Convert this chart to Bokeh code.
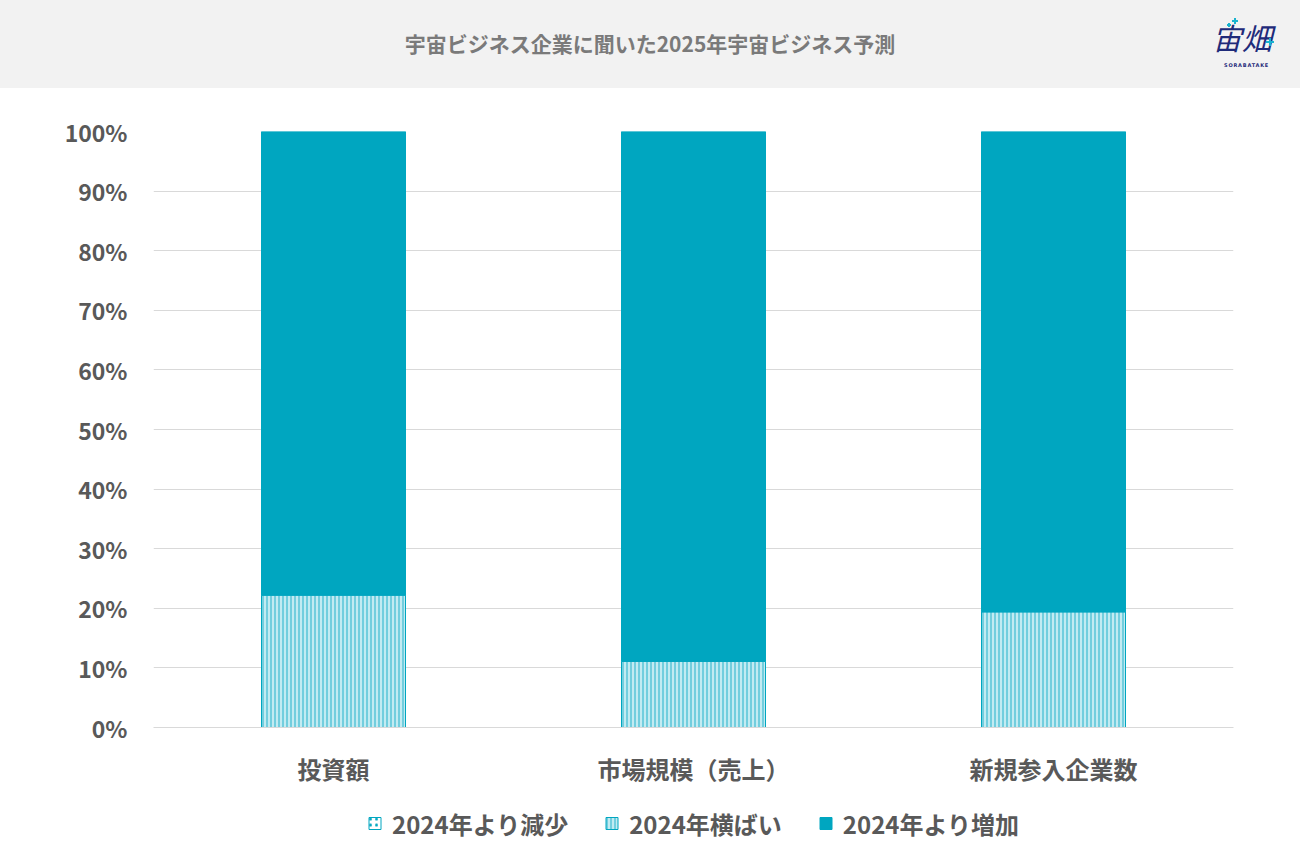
from bokeh.plotting import figure
from bokeh.models import (FactorRange, Range1d, FixedTicker, PrintfTickFormatter,
                          Legend, LegendItem, Div, ColumnDataSource)
from bokeh.layouts import column
from bokeh.transform import stack
from bokeh.embed import file_html
from bokeh.resources import INLINE

# ---- data ----
title_text = "宇宙ビジネス企業に聞いた2025年宇宙ビジネス予測"
categories = ["投資額", "市場規模（売上）", "新規参入企業数"]
decrease = [0.0, 0.0, 0.0]
flat = [22.2, 11.1, 19.4]
increase = [77.8, 88.9, 80.6]
series_labels = ["2024年より減少", "2024年横ばい", "2024年より増加"]
y_ticks = [0, 10, 20, 30, 40, 50, 60, 70, 80, 90, 100]

FONT = "Noto Sans CJK JP"
TEAL = "#00a6c0"
GREY_TXT = "#595959"

W = 1300
H = 850
HEADER_H = 88
BL, BR, BT, BB = 153, 67, 43, 68
FRAME_W = W - BL - BR
FRAME_H = 596
FIG_H = BT + FRAME_H + BB
LEG_H = H - HEADER_H - FIG_H

# series styles
STYLES = [
    dict(fill_color="white", line_color=TEAL, line_width=1,
         hatch_pattern=".", hatch_color=TEAL, hatch_scale=6, hatch_weight=1.5),
    dict(fill_color="#c2ebf2", line_color=TEAL, line_width=1,
         hatch_pattern="|", hatch_color="#22b1ca", hatch_scale=4, hatch_weight=1),
    dict(fill_color=TEAL, line_color=TEAL, line_width=1),
]


def cross(cx, cy, size, thick, color="#19b3cf"):
    h = (f'<div style="position:absolute;left:{cx - size / 2}px;top:{cy - thick / 2}px;'
         f'width:{size}px;height:{thick}px;background:{color};"></div>')
    v = (f'<div style="position:absolute;left:{cx - thick / 2}px;top:{cy - size / 2}px;'
         f'width:{thick}px;height:{size}px;background:{color};"></div>')
    return h + v


header_html = f"""
<div style="position:relative;width:{W}px;height:{HEADER_H}px;background:#f2f2f2;font-family:'{FONT}';">
  <div style="position:absolute;left:0;width:{W}px;top:29px;text-align:center;font-size:21px;font-weight:bold;color:#7a7a7a;line-height:28px;">{title_text}</div>
  <div style="position:absolute;left:1212px;top:16px;font-size:30px;font-style:italic;color:#1f2b7a;line-height:43px;">宙畑</div>
  {cross(1229, 25, 4, 1.5)}
  {cross(1234.5, 21, 6, 2)}
  {cross(1270, 42, 8, 2)}
  <div style="position:absolute;left:1224px;top:62px;font-size:5px;font-weight:bold;color:#1f2b7a;letter-spacing:0.8px;line-height:6px;font-family:'DejaVu Sans';">SORABATAKE</div>
</div>
"""
header = Div(text=header_html, width=W, height=HEADER_H, margin=0)

src = ColumnDataSource(dict(cat=categories, dec=decrease, flat=flat, inc=increase))
stacks = [(0, "dec"), (stack("dec"), stack("dec", "flat")),
          (stack("dec", "flat"), stack("dec", "flat", "inc"))]


def add_bars(fig):
    rs = []
    for (bottom, top), style in zip(stacks, STYLES):
        rs.append(fig.vbar(x="cat", bottom=bottom, top=top, width=0.4, source=src, **style))
    return rs


p = figure(x_range=FactorRange(*categories, range_padding=0), y_range=Range1d(0, 100),
           width=W, height=FIG_H, frame_width=FRAME_W, frame_height=FRAME_H,
           output_backend="svg", toolbar_location=None,
           min_border_left=BL, min_border_right=BR, min_border_top=BT, min_border_bottom=BB)
p.margin = 0
add_bars(p)

p.background_fill_color = "white"
p.border_fill_color = "white"
p.outline_line_color = None

p.xgrid.grid_line_color = None
p.ygrid.grid_line_color = "#d9d9d9"
p.ygrid.grid_line_width = 1
p.ygrid.ticker = FixedTicker(ticks=y_ticks)

p.yaxis.ticker = FixedTicker(ticks=y_ticks)
p.yaxis.formatter = PrintfTickFormatter(format="%d%%")
p.yaxis.axis_line_color = None
p.yaxis.major_tick_line_color = None
p.yaxis.minor_tick_line_color = None
p.yaxis.major_label_standoff = 20
p.yaxis.major_label_text_font = FONT
p.yaxis.major_label_text_font_size = "23px"
p.yaxis.major_label_text_font_style = "bold"
p.yaxis.major_label_text_color = GREY_TXT

p.xaxis.axis_line_color = "#d9d9d9"
p.xaxis.axis_line_width = 1
p.xaxis.major_tick_line_color = None
p.xaxis.minor_tick_line_color = None
p.xaxis.major_label_standoff = 17
p.xaxis.major_label_text_font = FONT
p.xaxis.major_label_text_font_size = "24px"
p.xaxis.major_label_text_font_style = "bold"
p.xaxis.major_label_text_color = GREY_TXT

# ---- legend strip (same bars, scrolled out of its view; only the legend shows) ----
lg = figure(width=W, height=LEG_H, x_range=FactorRange(*categories), y_range=Range1d(200, 201),
            output_backend="svg", toolbar_location=None,
            x_axis_location=None, y_axis_location=None,
            min_border_left=0, min_border_right=0, min_border_top=0, min_border_bottom=0)
lg.margin = 0
lg.grid.visible = False
lg.outline_line_color = None
lg.background_fill_color = "white"
lg.border_fill_color = "white"

lg_renderers = add_bars(lg)
items = [LegendItem(label=label, renderers=[r]) for label, r in zip(series_labels, lg_renderers)]

legend = Legend(items=items, orientation="horizontal", location="center",
                label_text_font=FONT, label_text_font_size="24px", label_text_font_style="bold",
                label_text_color=GREY_TXT, glyph_width=15, glyph_height=15,
                spacing=36, label_standoff=10, border_line_color=None,
                background_fill_alpha=0, margin=0, padding=0)
lg.add_layout(legend)

layout = column(header, p, lg, spacing=0)
open("out.html", "w").write(file_html(layout, INLINE))
